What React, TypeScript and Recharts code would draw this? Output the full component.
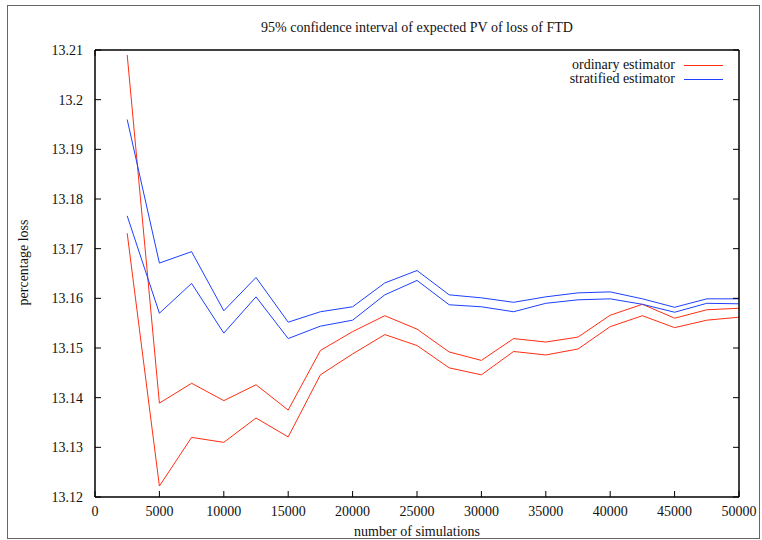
import React from 'react'
import { LineChart, Line, XAxis, YAxis, Legend } from 'recharts'

const sims = [2500, 5000, 7500, 10000, 12500, 15000, 17500, 20000, 22500, 25000, 27500, 30000, 32500, 35000, 37500, 40000, 42500, 45000, 47500, 50000]
const ordinaryUpper = [13.209, 13.1389, 13.1429, 13.1394, 13.1426, 13.1375, 13.1495, 13.1533, 13.1565, 13.1538, 13.1492, 13.1475, 13.1519, 13.1512, 13.1522, 13.1566, 13.1588, 13.156, 13.1577, 13.158]
const ordinaryLower = [13.1731, 13.1222, 13.132, 13.131, 13.1359, 13.1321, 13.1446, 13.1488, 13.1527, 13.1505, 13.146, 13.1446, 13.1493, 13.1486, 13.1498, 13.1543, 13.1565, 13.1541, 13.1556, 13.1562]
const stratifiedUpper = [13.196, 13.1671, 13.1694, 13.1575, 13.1642, 13.1552, 13.1573, 13.1583, 13.1631, 13.1656, 13.1607, 13.1601, 13.1592, 13.1603, 13.1611, 13.1613, 13.1599, 13.1582, 13.1599, 13.1599]
const stratifiedLower = [13.1766, 13.157, 13.163, 13.153, 13.1603, 13.1519, 13.1544, 13.1556, 13.1607, 13.1636, 13.1587, 13.1583, 13.1573, 13.159, 13.1597, 13.1599, 13.1588, 13.1572, 13.159, 13.1589]

const xTicks = [0, 5000, 10000, 15000, 20000, 25000, 30000, 35000, 40000, 45000, 50000]
const yTicks = [13.12, 13.13, 13.14, 13.15, 13.16, 13.17, 13.18, 13.19, 13.2, 13.21]

const RED = '#ff2e12'
const BLUE = '#1e40ff'
const FONT = "'Liberation Serif', 'Times New Roman', Times, 'DejaVu Serif', serif"

const data = sims.map((n, i) => ({
  n,
  ordUp: ordinaryUpper[i],
  ordLo: ordinaryLower[i],
  strUp: stratifiedUpper[i],
  strLo: stratifiedLower[i],
}))

const tickStyle = { fontSize: 14, fill: '#111', fontFamily: FONT }
const fmtY = (v: number) => String(Number(v.toFixed(2)))

const LegendBox = () => (
  <div style={{ fontFamily: FONT, fontSize: 14, color: '#111', lineHeight: '14px' }}>
    {[['ordinary estimator', RED], ['stratified estimator', BLUE]].map(([label, color]) => (
      <div key={label} style={{ display: 'flex', alignItems: 'center', justifyContent: 'flex-end' }}>
        <span>{label}</span>
        <span style={{ display: 'inline-block', width: 39, height: 0, borderTop: `1px solid ${color}`, marginLeft: 9 }} />
      </div>
    ))}
  </div>
)

export default function App() {
  return (
    <div style={{ position: 'absolute', left: 0, top: 0, width: 762, height: 540, background: '#fff', fontFamily: FONT }}>
      <div style={{ position: 'absolute', left: 7, top: 5, width: 753, height: 534, boxSizing: 'border-box', border: '1px solid #666', pointerEvents: 'none' }} />
      <div style={{ position: 'absolute', left: 95, width: 644, top: 20, textAlign: 'center', fontSize: 14, color: '#111' }}>
        95% confidence interval of expected PV of loss of FTD
      </div>
      <LineChart width={762} height={540} data={data} margin={{ top: 49, right: 22, left: 0, bottom: 0 }} style={{ fontFamily: FONT }}>
        <XAxis
          dataKey="n"
          type="number"
          domain={[0, 50000]}
          ticks={xTicks}
          allowDataOverflow
          height={43}
          tickSize={-6}
          tickMargin={15}
          tick={tickStyle}
          axisLine={{ stroke: '#000', strokeWidth: 1.5 }}
          tickLine={{ stroke: '#000' }}
          interval={0}
          label={{ value: 'number of simulations', position: 'insideBottom', offset: 4, style: { fontSize: 14, fill: '#111', fontFamily: FONT } }}
        />
        <XAxis
          xAxisId="top"
          orientation="top"
          type="number"
          domain={[0, 50000]}
          ticks={xTicks}
          allowDataOverflow
          height={1}
          tickSize={-6}
          tickFormatter={() => ''}
          axisLine={{ stroke: '#000', strokeWidth: 1.5 }}
          tickLine={{ stroke: '#000' }}
          interval={0}
        />
        <YAxis
          type="number"
          domain={[13.12, 13.21]}
          ticks={yTicks}
          allowDataOverflow
          width={95}
          tickSize={-6}
          tickMargin={18}
          tick={tickStyle}
          tickFormatter={fmtY}
          axisLine={{ stroke: '#000', strokeWidth: 1.5 }}
          tickLine={{ stroke: '#000' }}
          interval={0}
          label={({ viewBox }: any) => (
            <text
              x={0}
              y={0}
              transform={`translate(28, ${viewBox.y + viewBox.height / 2 - 11}) rotate(-90)`}
              textAnchor="middle"
              style={{ fontSize: 14, fill: '#111', fontFamily: FONT }}
            >
              percentage loss
            </text>
          )}
        />
        <YAxis
          yAxisId="right"
          orientation="right"
          type="number"
          domain={[13.12, 13.21]}
          ticks={yTicks}
          allowDataOverflow
          width={1}
          tickSize={-6}
          tickFormatter={() => ''}
          axisLine={{ stroke: '#000', strokeWidth: 1.5 }}
          tickLine={{ stroke: '#000' }}
          interval={0}
        />
        <Legend
          layout="vertical"
          align="center"
          verticalAlign="middle"
          content={<LegendBox />}
          wrapperStyle={{ position: 'absolute', top: 58, left: 400, width: 323, height: 30 }}
        />
        <Line type="linear" dataKey="ordUp" stroke={RED} strokeWidth={1} dot={false} isAnimationActive={false} legendType="none" />
        <Line type="linear" dataKey="ordLo" stroke={RED} strokeWidth={1} dot={false} isAnimationActive={false} legendType="none" />
        <Line type="linear" dataKey="strUp" stroke={BLUE} strokeWidth={1} dot={false} isAnimationActive={false} legendType="none" />
        <Line type="linear" dataKey="strLo" stroke={BLUE} strokeWidth={1} dot={false} isAnimationActive={false} legendType="none" />
      </LineChart>
    </div>
  )
}
